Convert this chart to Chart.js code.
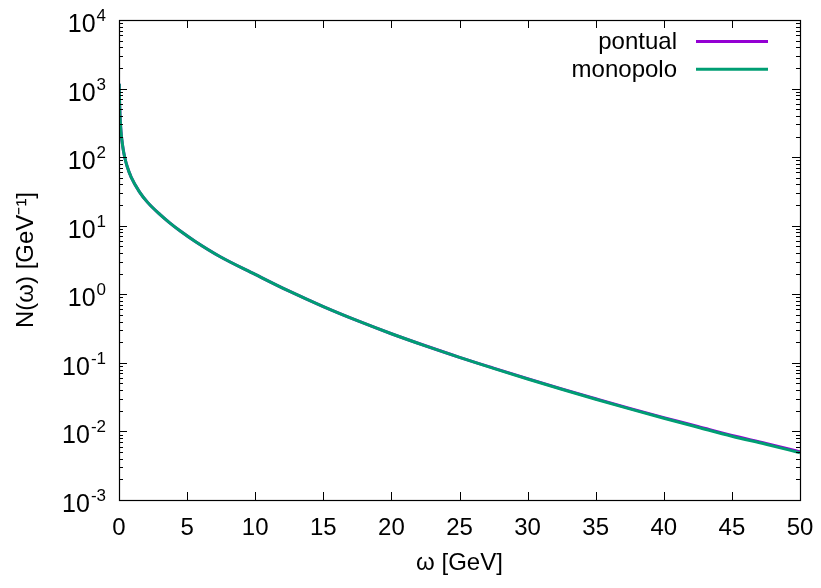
<!DOCTYPE html>
<html><head><meta charset="utf-8">
<script src="https://cdn.jsdelivr.net/npm/chart.js@4.4.1/dist/chart.umd.min.js"></script>
<style>html,body{margin:0;padding:0;background:#fff}#wrap{width:821px;height:588px}</style>
</head><body><div id="wrap"><canvas id="c" width="821" height="588"></canvas></div>
<script>
// ---- data ----
const omega = [0.019, 0.03, 0.05, 0.07, 0.1, 0.15, 0.2, 0.3, 0.42, 0.6, 0.9, 1.5, 2.1, 3, 3.7, 4.5, 5.6, 7.4, 10, 12.5, 15, 17.5, 20, 22.5, 25, 27.5, 30, 32.5, 35, 37.5, 40, 42.5, 45, 47.5, 50];
const monopolo = [1175, 828, 556, 427, 324, 234, 186, 133, 99.8, 72.9, 50.7, 31.2, 21.9, 14.6, 11.1, 8.36, 5.89, 3.56, 1.95, 1.109, 0.661, 0.412, 0.266, 0.177, 0.120, 0.0832, 0.0582, 0.0412, 0.0295, 0.0213, 0.0156, 0.0115, 0.0085, 0.0065, 0.0049];
const pontual = [1175, 828, 556, 427, 324, 234, 186, 133, 99.8, 72.9, 50.7, 31.2, 21.9, 14.6, 11.1, 8.36, 5.89, 3.56, 1.95, 1.109, 0.661, 0.412, 0.266, 0.1775, 0.1205, 0.0838, 0.0588, 0.0417, 0.0300, 0.0217, 0.0159, 0.0118, 0.0087, 0.0067, 0.00505];
const seriesNames = ['pontual', 'monopolo'];
const seriesColors = ['#9400d3', '#009e73'];
const xTicks = [0, 5, 10, 15, 20, 25, 30, 35, 40, 45, 50];
const yTickExponents = [-3, -2, -1, 0, 1, 2, 3, 4];
const xTitle = 'ω [GeV]';
const yTitle = 'N(ω) [GeV⁻¹]';

const FONT = '"Liberation Sans", Arial, Helvetica, sans-serif';

function pts(ys) { return omega.map((x, i) => ({x: x, y: ys[i]})); }

const gnuplotFrame = {
  id: 'gnuplotFrame',
  afterDatasetsDraw(chart) {
    const {ctx, chartArea: a, scales: {x, y}} = chart;
    ctx.save();
    ctx.strokeStyle = '#000';
    ctx.lineWidth = 1;
    const seg = (x1, y1, x2, y2) => { ctx.beginPath(); ctx.moveTo(x1, y1); ctx.lineTo(x2, y2); ctx.stroke(); };
    xTicks.forEach(v => {
      const px = Math.round(x.getPixelForValue(v)) + 0.5;
      seg(px, a.bottom, px, a.bottom - 8);
      seg(px, a.top, px, a.top + 8);
    });
    yTickExponents.forEach(e => {
      const py = Math.round(y.getPixelForValue(Math.pow(10, e))) + 0.5;
      seg(a.left, py, a.left + 8, py);
      seg(a.right, py, a.right - 8, py);
      if (e < yTickExponents[yTickExponents.length - 1]) {
        for (let m = 2; m <= 9; m++) {
          const pm = Math.round(y.getPixelForValue(m * Math.pow(10, e))) + 0.5;
          seg(a.left, pm, a.left + 4, pm);
          seg(a.right, pm, a.right - 4, pm);
        }
      }
    });
    ctx.lineWidth = 1.2;
    ctx.strokeRect(Math.round(a.left) + 0.5, Math.round(a.top) + 0.5, Math.round(a.right - a.left), Math.round(a.bottom - a.top));
    ctx.restore();
  },
  afterDraw(chart) {
    const {ctx, chartArea: a, scales: {y}} = chart;
    ctx.save();
    ctx.fillStyle = '#000';
    ctx.textBaseline = 'alphabetic';
    const R = 106;
    yTickExponents.forEach(e => {
      const py = y.getPixelForValue(Math.pow(10, e));
      const sup = String(e);
      ctx.font = '17px ' + FONT;
      const sw = ctx.measureText(sup).width;
      ctx.textAlign = 'left';
      ctx.fillText(sup, R - sw, py + 1);
      ctx.font = '25px ' + FONT;
      ctx.textAlign = 'right';
      ctx.fillText('10', R - sw - 1, py + 12);
    });
    ctx.font = '24px ' + FONT;
    ctx.textAlign = 'right';
    ctx.textBaseline = 'middle';
    chart.data.datasets.forEach((ds, i) => {
      const ly = a.top + 21.5 + i * 27.7;
      ctx.fillStyle = '#000';
      ctx.fillText(ds.label, 677, ly + 1);
      ctx.strokeStyle = ds.borderColor;
      ctx.lineWidth = 3;
      ctx.beginPath(); ctx.moveTo(696, ly); ctx.lineTo(768, ly); ctx.stroke();
    });
    ctx.restore();
  }
};

new Chart(document.getElementById('c'), {
  type: 'line',
  data: {
    datasets: [
      {label: seriesNames[0], data: pts(pontual), borderColor: seriesColors[0], backgroundColor: seriesColors[0], borderWidth: 3, pointRadius: 0, order: 2},
      {label: seriesNames[1], data: pts(monopolo), borderColor: seriesColors[1], backgroundColor: seriesColors[1], borderWidth: 3, pointRadius: 0, order: 1}
    ]
  },
  options: {
    responsive: false,
    animation: false,
    devicePixelRatio: 1,
    parsing: false,
    layout: {padding: {left: 0, right: 21, top: 20, bottom: 0}},
    plugins: {legend: {display: false}, tooltip: {enabled: false}},
    elements: {line: {cubicInterpolationMode: 'monotone'}},
    scales: {
      x: {
        type: 'linear', min: 0, max: 50,
        afterBuildTicks: s => { s.ticks = xTicks.map(v => ({value: v})); },
        afterFit: s => { s.height = 88; s.paddingLeft = 0; s.paddingRight = 0; },
        grid: {display: false, drawTicks: false},
        border: {display: false},
        ticks: {color: '#000', font: {family: FONT, size: 24}, padding: 14, maxRotation: 0, autoSkip: false},
        title: {display: true, text: xTitle, color: '#000', font: {family: FONT, size: 24}, padding: {top: 0, bottom: 10}}
      },
      y: {
        type: 'logarithmic', min: 1e-3, max: 1e4,
        afterFit: s => { s.width = 119; s.paddingTop = 0; s.paddingBottom = 0; },
        grid: {display: false, drawTicks: false},
        border: {display: false},
        ticks: {display: false},
        title: {display: true, text: yTitle, color: '#000', font: {family: FONT, size: 24}, padding: {top: 12, bottom: 0}}
      }
    }
  },
  plugins: [gnuplotFrame]
});
</script>
</body></html>
